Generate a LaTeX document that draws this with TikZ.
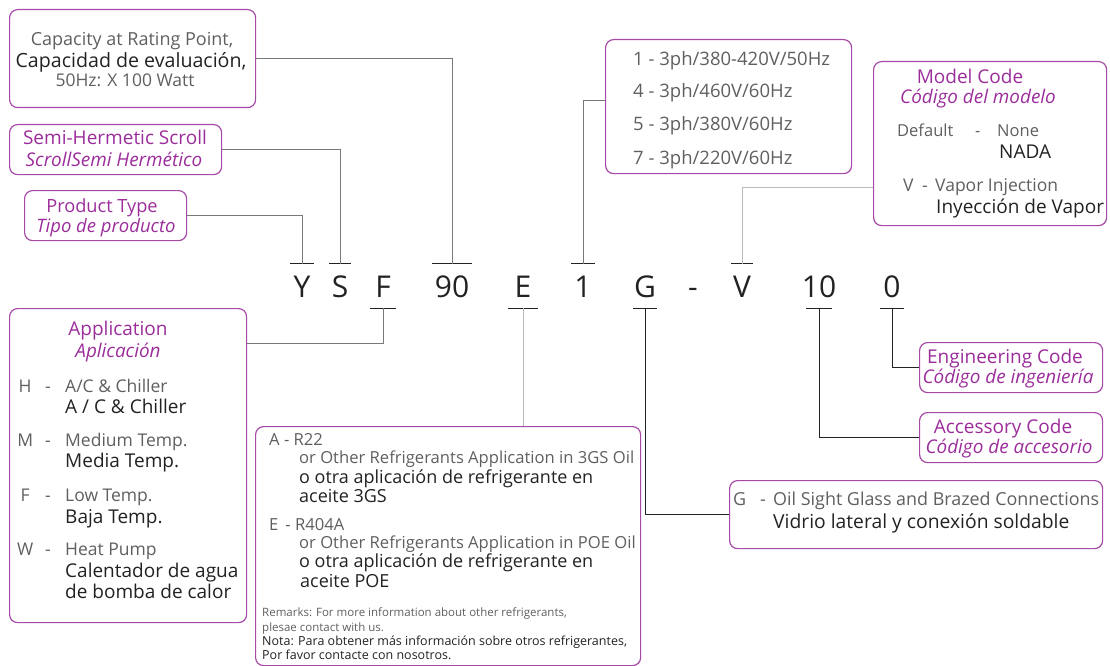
\documentclass[tikz,border=0pt]{standalone}
\usepackage{fontspec}
\setmainfont{Open Sans}
\usepackage{tikz}
\usetikzlibrary{positioning,calc}
\definecolor{boxpurple}{RGB}{167,74,167}
\definecolor{ttlpurple}{RGB}{155,45,155}
\definecolor{engray}{RGB}{95,95,95}
\definecolor{esdark}{RGB}{34,34,34}
\definecolor{linegray}{RGB}{120,120,120}
\definecolor{lightline}{RGB}{185,185,185}
\tikzstyle{box}=[draw=boxpurple,line width=1.2pt,rounded corners=8pt,inner sep=0pt,anchor=north west]
\tikzstyle{txt}=[inner sep=0pt,anchor=base west]
\tikzstyle{en}=[txt,text=engray,font=\fontsize{17.5}{20}\selectfont]
\tikzstyle{es}=[txt,text=esdark,font=\fontsize{19}{21}\selectfont]
\tikzstyle{noteen}=[txt,text=engray,font=\fontsize{16.6}{19}\selectfont]
\tikzstyle{notees}=[txt,text=esdark,font=\fontsize{18}{20}\selectfont]
\tikzstyle{small}=[txt,font=\fontsize{11.5}{14}\selectfont]
\tikzstyle{ttl}=[txt,text=ttlpurple,font=\fontsize{19}{21}\selectfont]
\tikzstyle{ttlit}=[ttl,font=\fontsize{18.9}{21}\selectfont\itshape]
\tikzstyle{code}=[inner xsep=0pt,inner ysep=11pt,text height=22pt,text depth=0pt,anchor=base,text=esdark,font=\fontsize{30}{30}\selectfont]
\tikzstyle{tick}=[draw=esdark,line width=1.2pt]
\tikzstyle{link}=[draw=linegray,line width=1pt]

\begin{document}
\begin{tikzpicture}[x=1pt,y=-1pt]
\useasboundingbox (0,0) rectangle (1110,666);

\node [code] (codeY) at (302,297) {Y};
\node [code] (codeS) at (340,297) {S};
\node [code] (codeF) at (383,297) {F};
\node [code] (code90) at (452,297) {90};
\node [code] (codeE) at (523,297) {E};
\node [code] (code1) at (583,297) {1};
\node [code] (codeG) at (645,297) {G};
\node [code] (codeDash) at (693,297) {-};
\node [code] (codeV) at (742,297) {V};
\node [code] (code10) at (819,297) {10};
\node [code] (code0) at (892,297) {0};

\draw [tick] ([xshift=-12pt]codeY.north) -- ([xshift=12pt]codeY.north);
\draw [tick] ([xshift=-11pt]codeS.north) -- ([xshift=11pt]codeS.north);
\draw [tick] ([xshift=-13pt]codeF.south) -- ([xshift=13pt]codeF.south);
\draw [tick] ([xshift=-20pt]code90.north) -- ([xshift=20pt]code90.north);
\draw [tick] ([xshift=-15pt]codeE.south) -- ([xshift=15pt]codeE.south);
\draw [tick] ([xshift=-12pt]code1.north) -- ([xshift=12pt]code1.north);
\draw [tick] ([xshift=-12pt]codeG.south) -- ([xshift=12pt]codeG.south);
\draw [tick] ([xshift=-11pt]codeV.north) -- ([xshift=11pt]codeV.north);
\draw [tick] ([xshift=-13pt]code10.south) -- ([xshift=13pt]code10.south);
\draw [tick] ([xshift=-12pt]code0.south) -- ([xshift=12pt]code0.south);

\node [box,minimum width=246pt,minimum height=98pt] (capbox) at (9,9) {};
\node [en,anchor=base,font=\fontsize{18}{20}\selectfont] (cap1) at (132,46) {Capacity at Rating Point,};
\node [es,anchor=base,font=\fontsize{19.6}{22}\selectfont] (cap2) at (131,68) {Capacidad de evaluación,};
\node [en,anchor=base] (cap3) at (125,87) {50Hz: X 100 Watt};

\node [box,minimum width=212pt,minimum height=50pt] (semibox) at (9,124) {};
\node [ttl,anchor=base] (semi1) at (115,144) {Semi-Hermetic Scroll};
\node [ttlit,anchor=base] (semi2) at (114,166) {ScrollSemi Hermético};

\node [box,minimum width=162pt,minimum height=50pt] (prodbox) at (24,190) {};
\node [ttl,anchor=base,font=\fontsize{18.2}{21}\selectfont] (prod1) at (102,212) {Product Type};
\node [ttlit,anchor=base,font=\fontsize{18.5}{21}\selectfont\itshape] (prod2) at (106,232) {Tipo de producto};

\node [box,minimum width=246pt,minimum height=134pt] (voltbox) at (605,39) {};
\node [en,font=\fontsize{18.5}{20}\selectfont] (volt1) at (633,66) {1 - 3ph/380-420V/50Hz};
\node [en,font=\fontsize{18.5}{20}\selectfont] (volt4) at (633,98) {4 - 3ph/460V/60Hz};
\node [en,font=\fontsize{18.5}{20}\selectfont] (volt5) at (633,131) {5 - 3ph/380V/60Hz};
\node [en,font=\fontsize{18.5}{20}\selectfont] (volt7) at (633,164) {7 - 3ph/220V/60Hz};

\node [box,minimum width=233pt,minimum height=164pt] (modelbox) at (873,61) {};
\node [ttl,anchor=base] (model1) at (970,84) {Model Code};
\node [ttlit,anchor=base] (model2) at (978,104) {Código del modelo};
\node [en,font=\fontsize{16.5}{20}\selectfont] (modelDef) at (897,136) {\makebox[78pt][l]{Default}\makebox[22pt][l]{-}None};
\node [es] (modelNada) at (999,158) {NADA};
\node [en] (modelV) at (903,191) {\makebox[19pt][l]{V}\makebox[13pt][l]{-}Vapor Injection};
\node [es] (modelVes) at (936,213) {Inyección de Vapor};

\node [box,minimum width=237pt,minimum height=314pt] (appbox) at (9,308) {};
\node [ttl,anchor=base] (app1) at (118,335) {Application};
\node [ttlit,anchor=base] (app2) at (118,357) {Aplicación};
\node [en] (appH) at (11,392) {\makebox[28pt]{H}\hspace{6pt}\makebox[20pt][l]{-}A/C \& Chiller};
\node [es] (appHes) at (65,413) {A / C \& Chiller};
\node [en] (appM) at (11,446) {\makebox[28pt]{M}\hspace{6pt}\makebox[20pt][l]{-}Medium Temp.};
\node [es] (appMes) at (65,467) {Media Temp.};
\node [en] (appF) at (11,501) {\makebox[28pt]{F}\hspace{6pt}\makebox[20pt][l]{-}Low Temp.};
\node [es] (appFes) at (65,523) {Baja Temp.};
\node [en] (appW) at (11,555) {\makebox[28pt]{W}\hspace{6pt}\makebox[20pt][l]{-}Heat Pump};
\node [es] (appWes) at (65,577) {Calentador de agua};
\node [es] (appWes2) at (65,598) {de bomba de calor};

\node [box,minimum width=385pt,minimum height=239pt] (notebox) at (255,426) {};
\node [noteen] (noteA) at (269,445) {A - R22};
\node [noteen] (noteA1) at (299,463) {or Other Refrigerants Application in 3GS Oil};
\node [notees] (noteA2) at (299,483) {o otra aplicación de refrigerante en};
\node [notees] (noteA3) at (299,502) {aceite 3GS};
\node [noteen] (noteE) at (269,530) {E\hspace{7pt}- R404A};
\node [noteen] (noteE1) at (299,548) {or Other Refrigerants Application in POE Oil};
\node [notees] (noteE2) at (299,567) {o otra aplicación de refrigerante en};
\node [notees] (noteE3) at (300,587) {aceite POE};
\node [small,text=engray] (rem1) at (262,616) {Remarks: For more information about other refrigerants,};
\node [small,text=engray] (rem2) at (262,631) {plesae contact with us.};
\node [small,text=esdark,font=\fontsize{12.5}{14}\selectfont] (rem3) at (262,645) {Nota: Para obtener más información sobre otros refrigerantes,};
\node [small,text=esdark,font=\fontsize{12.5}{14}\selectfont] (rem4) at (262,659) {Por favor contacte con nosotros.};

\node [box,minimum width=373pt,minimum height=68pt] (gbox) at (729,480) {};
\node [en,font=\fontsize{17.9}{20}\selectfont] (g1) at (733,505) {\makebox[27pt][l]{G}\makebox[13pt][l]{-}Oil Sight Glass and Brazed Connections};
\node [es,font=\fontsize{19.3}{21}\selectfont] (g2) at (773,528) {Vidrio lateral y conexión soldable};

\node [box,minimum width=183pt,minimum height=50pt] (engbox) at (919,342) {};
\node [ttl,anchor=base] (eng1) at (1005,363) {Engineering Code};
\node [ttlit,anchor=base] (eng2) at (1008,383) {Código de ingeniería};

\node [box,minimum width=183pt,minimum height=50pt] (accbox) at (919,412) {};
\node [ttl,anchor=base] (acc1) at (1003,433) {Accessory Code};
\node [ttlit,anchor=base] (acc2) at (1009,453) {Código de accesorio};

\draw [link] (capbox.east) -| (code90.north);
\draw [link] (semibox.east) -| (codeS.north);
\draw [link] (prodbox.east) -| (codeY.north);
\draw [link] ([yshift=6pt]voltbox.west) -| (code1.north);
\draw [link,draw=lightline] ([yshift=-44pt]modelbox.west) -| (codeV.north);
\draw [link] ([yshift=-35pt]appbox.north east) -| (codeF.south);
\draw [link,draw=lightline] (codeE.south) -- (codeE.south |- notebox.north);
\draw [link,draw=esdark] (gbox.west) -| (codeG.south);
\draw [link,draw=esdark] (accbox.west) -| (code10.south);
\draw [link,draw=esdark] (engbox.west) -| (code0.south);
\end{tikzpicture}
\end{document}
